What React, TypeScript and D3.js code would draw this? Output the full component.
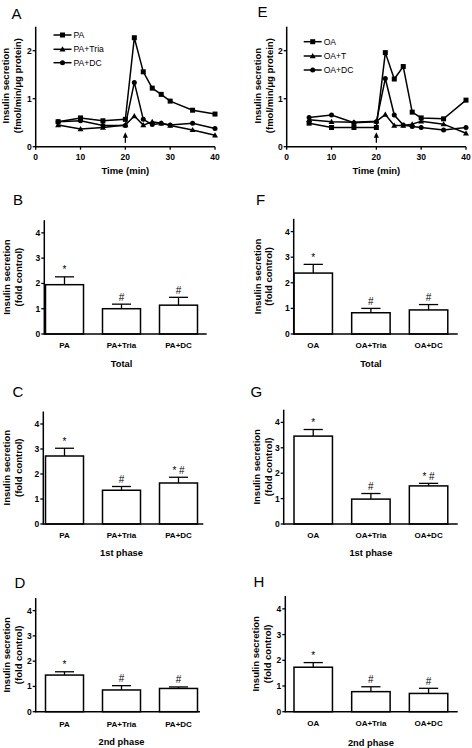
import React from "react";
import * as d3 from "d3";

const FONT = "'Liberation Sans', Arial, Helvetica, sans-serif";

// ---- Data: time course (A, E) ----
const timeMin = [5, 10, 15, 20, 22, 24, 26, 28, 30, 35, 40];
const paSeries = [0.52, 0.6, 0.54, 0.57, 2.27, 1.56, 1.22, 1.09, 0.95, 0.76, 0.68];
const paTriaSeries = [0.45, 0.37, 0.4, 0.45, 0.64, 0.45, 0.52, 0.49, 0.44, 0.35, 0.24];
const paDcSeries = [0.52, 0.54, 0.44, 0.44, 1.34, 0.57, 0.46, 0.49, 0.45, 0.49, 0.38];
const oaSeries = [0.49, 0.4, 0.4, 0.4, 1.96, 1.41, 1.67, 0.72, 0.6, 0.58, 0.97];
const oaTSeries = [0.56, 0.52, 0.51, 0.53, 0.67, 0.44, 0.44, 0.47, 0.53, 0.47, 0.28];
const oaDcSeries = [0.61, 0.66, 0.5, 0.52, 1.42, 0.66, 0.45, 0.42, 0.4, 0.35, 0.4];
const timeTicks = [0, 10, 20, 30, 40];
const lineYTicks = [0, 1, 2];
const legendPA = ["PA", "PA+Tria", "PA+DC"];
const legendOA = ["OA", "OA+T", "OA+DC"];

// ---- Data: bar panels ----
const catsPA = ["PA", "PA+Tria", "PA+DC"];
const catsOA = ["OA", "OA+Tria", "OA+DC"];
const barYTicks = [0, 1, 2, 3, 4];
const totalPaMean = [1.95, 1.0, 1.14];
const totalPaSem = [0.31, 0.18, 0.31];
const totalPaMarks = ["*", "#", "#"];
const firstPaMean = [2.72, 1.35, 1.64];
const firstPaSem = [0.31, 0.15, 0.23];
const firstPaMarks = ["*", "#", "* #"];
const secondPaMean = [1.45, 0.86, 0.92];
const secondPaSem = [0.13, 0.17, 0.06];
const secondPaMarks = ["*", "#", "#"];
const totalOaMean = [2.38, 0.83, 0.94];
const totalOaSem = [0.34, 0.17, 0.21];
const totalOaMarks = ["*", "#", "#"];
const firstOaMean = [3.46, 0.98, 1.5];
const firstOaSem = [0.26, 0.22, 0.1];
const firstOaMarks = ["*", "#", "* #"];
const secondOaMean = [1.73, 0.78, 0.71];
const secondOaSem = [0.18, 0.19, 0.2];
const secondOaMarks = ["*", "#", "#"];

type Shape = "square" | "triangle" | "circle";

function Marker({ shape, x, y }: { shape: Shape; x: number; y: number }) {
  if (shape === "square") return <rect x={x - 2.5} y={y - 2.5} width={5} height={5} fill="#000" />;
  if (shape === "circle") return <circle cx={x} cy={y} r={2.5} fill="#000" />;
  return <path d={`M${x},${y - 3} L${x + 3},${y + 2.2} L${x - 3},${y + 2.2} Z`} fill="#000" />;
}

function PanelLetter({ x, y, t }: { x: number; y: number; t: string }) {
  return (
    <text x={x} y={y} fontSize={15} fontFamily={FONT} fill="#000">
      {t}
    </text>
  );
}

function YTitle({ x1, x2, cy, l1, l2 }: { x1: number; x2: number; cy: number; l1: string; l2: string }) {
  return (
    <g fontFamily={FONT} fontWeight="bold" fontSize={9.5} fill="#000" textAnchor="middle">
      <text transform={`translate(${x1},${cy}) rotate(-90)`} dy="0.35em">{l1}</text>
      <text transform={`translate(${x2},${cy}) rotate(-90)`} dy="0.35em">{l2}</text>
    </g>
  );
}

function LinePanel(props: {
  letter: string; lx: number; ly: number;
  axisX: number; xEnd: number; y0: number; yTop: number;
  series: number[][]; names: string[];
  legX: number; legY: number[];
  t1x: number; t2x: number;
}) {
  const { axisX, xEnd, y0, yTop } = props;
  const x = d3.scaleLinear().domain([0, 40]).range([axisX, xEnd]);
  const y = d3.scaleLinear().domain([0, 2.5]).range([y0, yTop]);
  const line = d3.line<number>().x((_, i) => x(timeMin[i])).y((d) => y(d));
  const shapes: Shape[] = ["square", "triangle", "circle"];
  const ax = x(20);
  return (
    <g>
      <PanelLetter x={props.lx} y={props.ly} t={props.letter} />
      {props.series.map((s, k) => (
        <g key={k}>
          <path d={line(s) || ""} fill="none" stroke="#000" strokeWidth={1.5} />
          {s.map((v, i) => (
            <Marker key={i} shape={shapes[k]} x={x(timeMin[i])} y={y(v)} />
          ))}
        </g>
      ))}
      <line x1={axisX} x2={axisX} y1={yTop} y2={y0 + 0.75} stroke="#000" strokeWidth={1.5} />
      <line x1={axisX} x2={xEnd} y1={y0} y2={y0} stroke="#000" strokeWidth={1.5} />
      {lineYTicks.map((t) => (
        <g key={t}>
          <line x1={axisX - 3} x2={axisX} y1={y(t)} y2={y(t)} stroke="#000" strokeWidth={1.3} />
          <text x={axisX - 4} y={y(t)} dy="0.35em" textAnchor="end" fontSize={8.5} fontWeight="bold" fontFamily={FONT}>{t}</text>
        </g>
      ))}
      {timeTicks.map((t) => (
        <g key={t}>
          <line x1={x(t)} x2={x(t)} y1={y0} y2={y0 + 3} stroke="#000" strokeWidth={1.3} />
          <text x={x(t)} y={y0 + 13} textAnchor="middle" fontSize={8.5} fontWeight="bold" fontFamily={FONT}>{t}</text>
        </g>
      ))}
      <text x={(axisX + xEnd) / 2} y={y0 + 27} textAnchor="middle" fontSize={9.5} fontWeight="bold" fontFamily={FONT}>Time (min)</text>
      <YTitle x1={props.t1x} x2={props.t2x} cy={(y0 + yTop) / 2 - 1} l1="Insulin secretion" l2="(fmol/min/μg protein)" />
      <line x1={ax} x2={ax} y1={y0 - 10} y2={y0 - 4} stroke="#000" strokeWidth={1.3} />
      <path d={`M${ax},${y0 - 14.5} L${ax + 2.6},${y0 - 9} L${ax - 2.6},${y0 - 9} Z`} fill="#000" />
      {props.names.map((n, k) => (
        <g key={n}>
          <line x1={props.legX - 9} x2={props.legX + 9} y1={props.legY[k]} y2={props.legY[k]} stroke="#000" strokeWidth={1.5} />
          <Marker shape={shapes[k]} x={props.legX} y={props.legY[k]} />
          <text x={props.legX + 11} y={props.legY[k]} dy="0.35em" fontSize={8.6} fontFamily={FONT}>{n}</text>
        </g>
      ))}
    </g>
  );
}

function BarPanel(props: {
  letter: string; lx: number; ly: number;
  axisX: number; r0: number; r1: number; xEnd: number;
  y0: number; yTop: number;
  cats: string[]; means: number[]; sems: number[]; marks: string[];
  title: string; catY: number; titleY: number;
  t1x: number; t2x: number;
}) {
  const { axisX, y0, yTop } = props;
  const x = d3.scaleBand<string>().domain(props.cats).range([props.r0, props.r1]).paddingInner(1 / 3).paddingOuter(1 / 6);
  const y = d3.scaleLinear().domain([0, 4.5]).range([y0, yTop]);
  const bw = x.bandwidth();
  return (
    <g>
      <PanelLetter x={props.lx} y={props.ly} t={props.letter} />
      {props.cats.map((c, i) => {
        const bx = x(c) as number;
        const cx = bx + bw / 2;
        const top = y(props.means[i]);
        const et = y(props.means[i] + props.sems[i]);
        return (
          <g key={c}>
            <line x1={cx} x2={cx} y1={top} y2={et} stroke="#000" strokeWidth={1.3} />
            <line x1={cx - bw / 4} x2={cx + bw / 4} y1={et} y2={et} stroke="#000" strokeWidth={1.3} />
            <rect x={bx} y={top} width={bw} height={y0 - top} fill="#fff" stroke="#000" strokeWidth={1.5} />
            <text x={cx} y={et - 3.5} textAnchor="middle" fontSize={10} fontFamily={FONT}>{props.marks[i]}</text>
            <text x={cx} y={props.catY} textAnchor="middle" fontSize={8} fontWeight="bold" fontFamily={FONT}>{c}</text>
          </g>
        );
      })}
      <line x1={axisX} x2={axisX} y1={yTop} y2={y0 + 0.75} stroke="#000" strokeWidth={1.5} />
      <line x1={axisX} x2={props.xEnd} y1={y0} y2={y0} stroke="#000" strokeWidth={1.5} />
      {barYTicks.map((t) => (
        <g key={t}>
          <line x1={axisX - 3} x2={axisX} y1={y(t)} y2={y(t)} stroke="#000" strokeWidth={1.3} />
          <text x={axisX - 4} y={y(t)} dy="0.35em" textAnchor="end" fontSize={8.5} fontWeight="bold" fontFamily={FONT}>{t}</text>
        </g>
      ))}
      <text x={(x(props.cats[1]) as number) + bw / 2} y={props.titleY} textAnchor="middle" fontSize={9.3} fontWeight="bold" fontFamily={FONT}>{props.title}</text>
      <YTitle x1={props.t1x} x2={props.t2x} cy={(y0 + yTop) / 2} l1="Insulin secretion" l2="(fold control)" />
    </g>
  );
}

export default function App() {
  const L0 = 36, L1 = 207, R0 = 284.4, R1 = 457.4;
  return (
    <svg width={472} height={748} style={{ position: "absolute", left: 0, top: 0, background: "#fff" }}>
      <rect width={472} height={748} fill="#fff" />
      <LinePanel letter="A" lx={11.5} ly={18.5} axisX={35.7} xEnd={215} y0={146.7} yTop={26.7}
        series={[paSeries, paTriaSeries, paDcSeries]} names={legendPA}
        legX={62.5} legY={[35, 49.3, 62.7]} t1x={6} t2x={17.5} />
      <LinePanel letter="E" lx={257.5} ly={16.5} axisX={286.7} xEnd={466} y0={146.7} yTop={26.7}
        series={[oaSeries, oaTSeries, oaDcSeries]} names={legendOA}
        legX={312.7} legY={[41.7, 56, 70]} t1x={257.3} t2x={269.3} />

      <BarPanel letter="B" lx={13} ly={205} axisX={44.3} r0={L0} r1={L1} xEnd={206.7} y0={334} yTop={220.2}
        cats={catsPA} means={totalPaMean} sems={totalPaSem} marks={totalPaMarks}
        title="Total" catY={348} titleY={366.5} t1x={7} t2x={19} />
      <BarPanel letter="F" lx={256} ly={205} axisX={293.7} r0={R0} r1={R1} xEnd={457.7} y0={334} yTop={218.8}
        cats={catsOA} means={totalOaMean} sems={totalOaSem} marks={totalOaMarks}
        title="Total" catY={347.5} titleY={366.5} t1x={257.3} t2x={269} />

      <BarPanel letter="C" lx={12.5} ly={397} axisX={43.3} r0={L0} r1={L1} xEnd={203.3} y0={524} yTop={411.5}
        cats={catsPA} means={firstPaMean} sems={firstPaSem} marks={firstPaMarks}
        title="1st phase" catY={537.5} titleY={556} t1x={7} t2x={19} />
      <BarPanel letter="G" lx={250.5} ly={397} axisX={283.7} r0={R0} r1={R1} xEnd={457.7} y0={524} yTop={409.7}
        cats={catsOA} means={firstOaMean} sems={firstOaSem} marks={firstOaMarks}
        title="1st phase" catY={537.5} titleY={556} t1x={256.3} t2x={269} />

      <BarPanel letter="D" lx={14.5} ly={587.5} axisX={35.7} r0={L0} r1={L1} xEnd={200} y0={711.7} yTop={598}
        cats={catsPA} means={secondPaMean} sems={secondPaSem} marks={secondPaMarks}
        title="2nd phase" catY={726.5} titleY={745} t1x={7} t2x={19} />
      <BarPanel letter="H" lx={253.5} ly={587} axisX={285.3} r0={R0} r1={R1} xEnd={457.7} y0={711.7} yTop={596}
        cats={catsOA} means={secondOaMean} sems={secondOaSem} marks={secondOaMarks}
        title="2nd phase" catY={726} titleY={745.5} t1x={255.7} t2x={268} />
    </svg>
  );
}
